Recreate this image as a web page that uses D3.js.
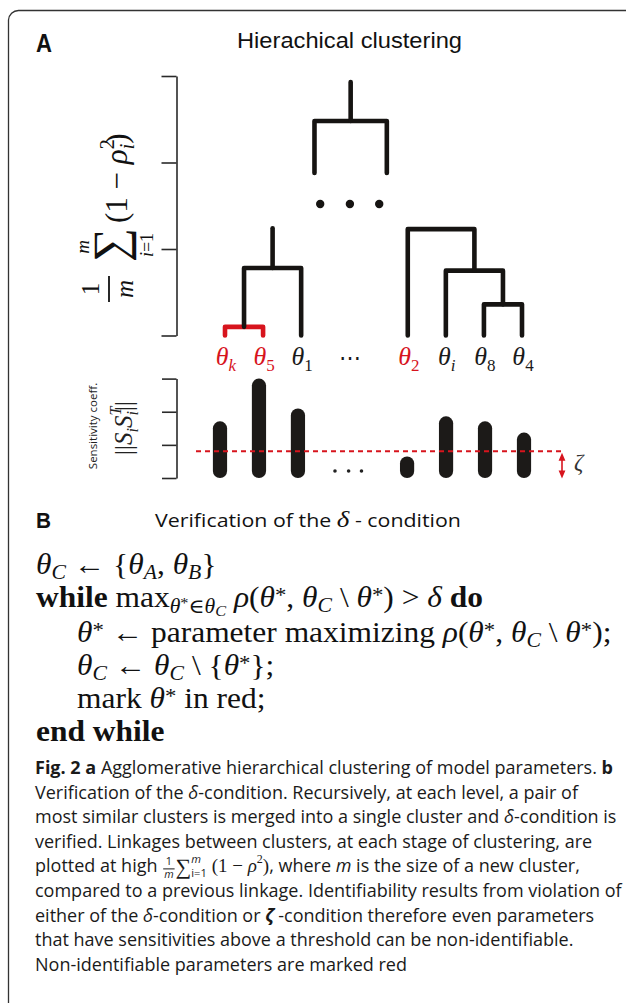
<!DOCTYPE html>
<html><head><meta charset="utf-8">
<script src="https://cdn.jsdelivr.net/npm/d3@7"></script>
<style>body{margin:0;background:#fff}svg{display:block}text{white-space:pre}</style>
</head><body>
<script>
// ---------------- data ----------------
const leafSubs   = ["k","5","1","2","i","8","4"];          // θ subscripts of leaves
const leafSubIt  = [true,false,false,false,true,false,false];
const leafSlots  = [0,1,2,4.8,5.8,6.8,7.8];                 // leaf order (gap = hidden leaves)
const leafRed    = [true,true,false,true,false,false,false];
const merges = [   // children: leaf index or merge id ; height in linkage units
  {id:"m1", children:[0,1],     height:0.10, red:true},
  {id:"m2", children:["m1",2],  height:0.78, stemTop:1.24},
  {id:"m3", children:[5,6],     height:0.36},
  {id:"m4", children:[4,"m3"],  height:0.75},
  {id:"m5", children:[3,"m4"],  height:1.23}
];
const upperSlots   = [2.35, 4.25];
const upperHeight  = 2.48, upperLegBottom = 1.88, upperStemTop = 2.93;
const ellipsisSlots = [2.5, 3.28, 4.05];
const ellipsisHeight = 1.52;
const linkTicks = [0,1,2,3];
const sensitivity = [1.71, 3.0, 2.1, 0.65, 1.86, 1.71, 1.37];
const sensDotSlots = [2.95, 3.3, 3.63];
const zeta = 0.81;
const sensTicks = [0,1,2,3];

// ---------------- setup ----------------
const W=626,H=1003;
const RED="#d7141d", INK="#161412", GREY="#2a2a2a";
const SERIF="'Liberation Serif','DejaVu Serif',serif";
const SANS="'Liberation Sans',Arial,sans-serif";
const CAP="'Open Sans','Noto Sans',sans-serif";
const svg=d3.select("body").append("svg").attr("width",W).attr("height",H);

function run(parent, x, y, pieces, base){
  let cx=x;
  for(const p0 of pieces){
    const s=Object.assign({}, base, p0);
    if(s.frac){
      const fs=s.fsize;
      const a=parent.append("text").attr("font-family",s.fam).attr("font-size",fs).attr("fill",s.fill)
        .attr("text-anchor","middle").text(s.frac[0]);
      const b=parent.append("text").attr("font-family",s.fam).attr("font-size",fs).attr("fill",s.fill)
        .attr("font-style","italic").attr("text-anchor","middle").text(s.frac[1]);
      const w=Math.max(a.node().getComputedTextLength(), b.node().getComputedTextLength())+2;
      a.attr("x",cx+w/2+1).attr("y",y+s.numDy);
      b.attr("x",cx+w/2+1).attr("y",y+s.denDy);
      parent.append("line").attr("x1",cx+1).attr("x2",cx+w+1).attr("y1",y+s.barDy).attr("y2",y+s.barDy)
        .attr("stroke",s.fill).attr("stroke-width",1);
      cx+=w+2;
      continue;
    }
    const t=parent.append("text")
      .attr("x",cx+(s.dx||0)).attr("y",y+(s.dy||0))
      .attr("font-family",s.fam).attr("font-size",s.size)
      .attr("font-style",s.it?"italic":"normal")
      .attr("font-weight",s.bold?"bold":"normal")
      .attr("fill",s.fill).text(s.t);
    const w=t.node().getComputedTextLength();
    if(!s.hold) cx+=w+(s.dx||0);
  }
  return cx;
}

// frame
svg.append("path").attr("d","M8.5,1003 V20 A10,10 0 0 1 18.5,10.5 H626")
  .attr("fill","none").attr("stroke","#333").attr("stroke-width",1.3);

// ---------------- Panel A ----------------
svg.append("text").attr("x",36).attr("y",52).attr("font-family",SANS).attr("font-weight","bold")
  .attr("font-size",25).attr("textLength",16).attr("lengthAdjust","spacingAndGlyphs").attr("fill","#111").text("A");
svg.append("text").attr("x",237).attr("y",48).attr("font-family",SANS)
  .attr("font-size",22).attr("textLength",225).attr("lengthAdjust","spacingAndGlyphs").attr("fill","#111")
  .text("Hierachical clustering");

const xDen=d3.scaleLinear([0,7.8],[225,522]);
const yDen=d3.scaleLinear([0,3],[335.5,76]);

const axA=svg.append("g").attr("transform","translate(176.5,0)")
  .call(d3.axisLeft(yDen).tickValues(linkTicks).tickSize(15).tickSizeOuter(0).tickFormat(""));
axA.selectAll("path,line").attr("stroke",GREY).attr("stroke-width",1.6);

// rotated y label for dendrogram
{
  const g=svg.append("g").attr("transform","rotate(-90)");
  const base={fam:SERIF,size:31,fill:"#111"};
  g.append("text").attr("x",-289).attr("y",99).attr("text-anchor","middle")
    .attr("font-family",SERIF).attr("font-size",25).attr("fill","#111").text("1");
  g.append("line").attr("x1",-276).attr("x2",-302).attr("y1",109).attr("y2",109)
    .attr("stroke","#111").attr("stroke-width",1.8);
  g.append("text").attr("x",-289).attr("y",133).attr("text-anchor","middle")
    .attr("font-family",SERIF).attr("font-style","italic").attr("font-size",25).attr("fill","#111").text("m");
  g.append("text").attr("x",-245).attr("y",126).attr("text-anchor","middle")
    .attr("font-family",SERIF).attr("font-size",48).attr("fill","#111").text("∑");
  g.append("text").attr("x",-247).attr("y",89).attr("text-anchor","middle")
    .attr("font-family",SERIF).attr("font-style","italic").attr("font-size",19).attr("fill","#111").text("m");
  const sg=g.append("g");
  const sw=run(sg, 0, 153, [{t:"i",it:true},{t:"=1"}], {fam:SERIF,size:18,fill:"#111"});
  sg.attr("transform",`translate(${-245-sw/2},0)`);
  run(g, -223, 127, [{t:"(1 − "},{t:"ρ",it:true},{t:"2",size:20,dy:-13,hold:true},{t:"i",it:true,size:20,dy:7},{t:")"}], base);
}

// dendrogram
const nodes={};
leafSlots.forEach((s,i)=>nodes[i]={x:xDen(s),h:0});
const dg=svg.append("g").attr("fill","none").attr("stroke-width",4.6)
  .attr("stroke-linecap","round").attr("stroke-linejoin","round");
merges.forEach(m=>{
  const c1=nodes[m.children[0]], c2=nodes[m.children[1]];
  const x=(c1.x+c2.x)/2;
  nodes[m.id]={x,h:m.height};
  dg.append("path").attr("stroke",m.red?RED:INK)
    .attr("d",`M${c1.x},${yDen(c1.h)}V${yDen(m.height)}H${c2.x}V${yDen(c2.h)}`);
  if(m.stemTop!=null)
    dg.append("path").attr("stroke",INK).attr("d",`M${x},${yDen(m.height)}V${yDen(m.stemTop)}`);
});
{
  const xa=xDen(upperSlots[0]), xb=xDen(upperSlots[1]), xm=(xa+xb)/2;
  dg.append("path").attr("stroke",INK)
    .attr("d",`M${xa},${yDen(upperLegBottom)}V${yDen(upperHeight)}H${xb}V${yDen(upperLegBottom)}`);
  dg.append("path").attr("stroke",INK).attr("d",`M${xm},${yDen(upperHeight)}V${yDen(upperStemTop)}`);
}
svg.selectAll("circle.ell").data(ellipsisSlots).join("circle").attr("class","ell")
  .attr("cx",d=>xDen(d)).attr("cy",yDen(ellipsisHeight)).attr("r",4.2).attr("fill",INK);

// leaf labels
leafSubs.forEach((sub,i)=>{
  const g=svg.append("g");
  const col=leafRed[i]?RED:"#1a1a1a";
  const w=run(g,0,365,[{t:"θ",it:true},{t:sub,it:leafSubIt[i],size:17,dy:6}],{fam:SERIF,size:26,fill:col});
  g.attr("transform",`translate(${xDen(leafSlots[i])-w/2+1},0)`);
});
svg.append("text").attr("x",xDen(3.28)).attr("y",365).attr("text-anchor","middle")
  .attr("font-family","'DejaVu Serif',serif").attr("font-size",22).attr("fill","#1a1a1a").text("⋯");

// ---------------- sensitivity bars ----------------
const xBar=d3.scaleLinear([0,7.8],[220,524]);
const yBar=d3.scaleLinear([0,3],[478,378.6]);
const axB=svg.append("g").attr("transform","translate(176.5,0)")
  .call(d3.axisLeft(yBar).tickValues(sensTicks).tickSize(14.5).tickSizeOuter(0).tickFormat(""));
axB.selectAll("path,line").attr("stroke",GREY).attr("stroke-width",1.6);

svg.selectAll("rect.bar").data(sensitivity).join("rect").attr("class","bar")
  .attr("x",(d,i)=>xBar(leafSlots[i])-7.1).attr("width",14.2)
  .attr("y",d=>yBar(d)).attr("height",d=>yBar(0)-yBar(d))
  .attr("rx",7).attr("ry",7).attr("fill","#1c1a18");
svg.selectAll("circle.sdot").data(sensDotSlots).join("circle").attr("class","sdot")
  .attr("cx",d=>xBar(d)).attr("cy",yBar(0.21)).attr("r",1.8).attr("fill","#222");

const zx0=196, zx1=562;
svg.append("line").attr("x1",zx0).attr("x2",zx1).attr("y1",yBar(zeta)).attr("y2",yBar(zeta))
  .attr("stroke",RED).attr("stroke-width",2).attr("stroke-dasharray","5,4");
{
  const y0=yBar(zeta)+1.5, y1=yBar(0)+0.5;
  svg.append("line").attr("x1",zx1).attr("x2",zx1).attr("y1",y0+5).attr("y2",y1-5)
    .attr("stroke",RED).attr("stroke-width",1.6);
  svg.append("path").attr("fill",RED)
    .attr("d",`M${zx1},${y0}L${zx1-3.4},${y0+8}L${zx1+3.4},${y0+8}Z M${zx1},${y1}L${zx1-3.4},${y1-8}L${zx1+3.4},${y1-8}Z`);
}
svg.append("text").attr("x",574).attr("y",470).attr("font-family",SERIF).attr("font-style","italic")
  .attr("font-size",23).attr("fill","#333").text("ζ");

// bars y-label
{
  const g=svg.append("g").attr("transform","rotate(-90)");
  g.append("text").attr("x",-426).attr("y",97).attr("text-anchor","middle")
    .attr("font-family",CAP).attr("font-size",11.5).attr("fill","#222").text("Sensitivity coeff.");
  const gg=g.append("g");
  const w=run(gg,0,132,[{t:"||"},{t:"S",it:true},{t:"i",it:true,size:16,dy:6},{t:"S",it:true},
    {t:"T",it:true,size:16,dy:-11,hold:true},{t:"i",it:true,size:16,dy:6},{t:"||"}],{fam:SERIF,size:25,fill:"#222"});
  gg.attr("transform",`translate(${-428-w/2},0)`);
}

// ---------------- Panel B ----------------
svg.append("text").attr("x",36).attr("y",528).attr("font-family",SANS).attr("font-weight","bold")
  .attr("font-size",22).attr("textLength",15).attr("lengthAdjust","spacingAndGlyphs").attr("fill","#111").text("B");
{
  const g=svg.append("g");
  const e=run(g,0,527,[{t:"Verification of the "},{t:"δ",fam:SERIF,it:true,size:24},{t:" - condition"}],
    {fam:CAP,size:19,fill:"#111"});
  g.attr("transform",`translate(155,0) scale(${306/e},1)`);
}

const M=29, S=20, SS=15;
const th={t:"θ",it:true}, star={t:"*",size:21,dy:-5};
const algLines=[
  {indent:false, y:574, p:[th,{t:"C",it:true,size:S,dy:5},{t:" ← {"},th,{t:"A",it:true,size:S,dy:5},{t:", "},th,{t:"B",it:true,size:S,dy:5},{t:"}"}]},
  {indent:false, y:607, p:[{t:"while ",bold:true},{t:"max"},{t:"θ",it:true,size:S,dy:6},{t:"*",size:15,dy:1},
     {t:"∈",size:S,dy:6},{t:"θ",it:true,size:S,dy:6},{t:"C",it:true,size:SS,dy:9},{t:" "},{t:"ρ",it:true},{t:"("},th,star,
     {t:", "},th,{t:"C",it:true,size:S,dy:5},{t:" \\ "},th,star,{t:") > "},{t:"δ",it:true},{t:" do",bold:true}]},
  {indent:true, y:642, p:[th,star,{t:" ← parameter maximizing "},{t:"ρ",it:true},{t:"("},th,star,{t:", "},th,
     {t:"C",it:true,size:S,dy:5},{t:" \\ "},th,star,{t:");"}]},
  {indent:true, y:675, p:[th,{t:"C",it:true,size:S,dy:5},{t:" ← "},th,{t:"C",it:true,size:S,dy:5},{t:" \\ {"},th,star,{t:"};"}]},
  {indent:true, y:708, p:[{t:"mark "},th,star,{t:" in red;"}]},
  {indent:false, y:741, p:[{t:"end while",bold:true}]}
];
algLines.forEach(l=>{
  const x0=l.indent?77:36;
  const g=svg.append("g").attr("transform",`translate(${x0},0) scale(1.085,1)`);
  run(g, 0, l.y, l.p, {fam:SERIF,size:M,fill:"#111"});
});

// ---------------- caption ----------------
const capLines=[
  [{t:"Fig. 2 a",bold:true},{t:" Agglomerative hierarchical clustering of model parameters. "},{t:"b",bold:true}],
  [{t:"Verification of the "},{t:"δ",it:true},{t:"-condition. Recursively, at each level, a pair of"}],
  [{t:"most similar clusters is merged into a single cluster and "},{t:"δ",it:true},{t:"-condition is"}],
  [{t:"verified. Linkages between clusters, at each stage of clustering, are"}],
  [{t:"plotted at high "},{frac:["1","m"]},{t:"∑",fam:SERIF,size:22,dy:2},{t:"m",it:true,sc:0.62,dy:-9,hold:true},{t:"i=1",sc:0.62,dy:5},
   {t:" (1 − ",fam:SERIF,size:19},{t:"ρ",fam:SERIF,it:true,size:19},{t:"2",fam:SERIF,size:12,dy:-9},{t:")",fam:SERIF,size:19},
   {t:", where "},{t:"m",it:true},{t:" is the size of a new cluster,"}],
  [{t:"compared to a previous linkage. Identifiability results from violation of"}],
  [{t:"either of the "},{t:"δ",it:true},{t:"-condition or "},{t:"ζ",it:true,bold:true},{t:" -condition therefore even parameters"}],
  [{t:"that have sensitivities above a threshold can be non-identifiable."}],
  [{t:"Non-identifiable parameters are marked red"}]
];
const capY0=774, capDy=24.6;
let capSize=18;
{
  const tmp=svg.append("g");
  const e=run(tmp,35,0,capLines[0],{fam:CAP,size:18,fill:"#111"});
  capSize=18*578/(e-35);
  tmp.remove();
}
capLines.forEach((l,i)=>{
  const pieces=l.map(p=>{
    const q=Object.assign({},p);
    if(q.sc){q.size=capSize*q.sc;delete q.sc;}
    if(q.frac){q.fsize=capSize*0.6;q.numDy=-7;q.denDy=6;q.barDy=-3.5;q.fam=CAP;}
    return q;
  });
  run(svg,35,capY0+i*capDy,pieces,{fam:CAP,size:capSize,fill:"#1a1a1a"});
});
</script>
</body></html>
